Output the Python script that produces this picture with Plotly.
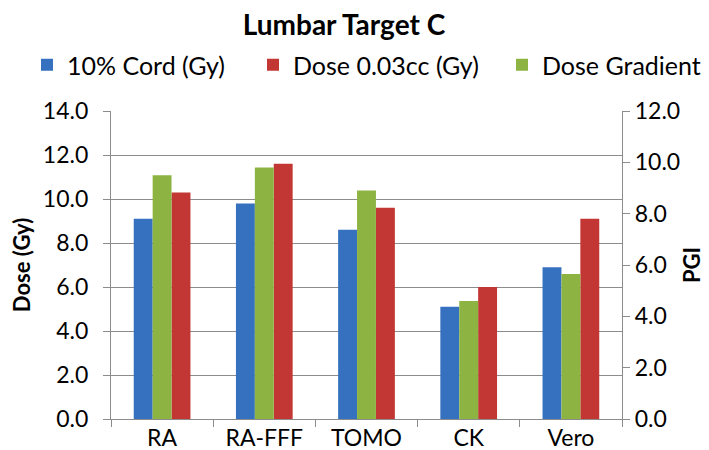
import plotly.graph_objects as go

categories = ["RA", "RA-FFF", "TOMO", "CK", "Vero"]
cord_10pct = [9.1, 9.8, 8.6, 5.1, 6.9]
dose_003cc = [10.3, 11.6, 9.6, 6.0, 9.1]
dose_gradient = [9.5, 9.8, 8.9, 4.6, 5.65]
left_ticks = [0, 2, 4, 6, 8, 10, 12, 14]
right_ticks = [0, 2, 4, 6, 8, 10, 12]

FONT = "Lato, 'Open Sans', sans-serif"
GRID = "#8C8C8C"
W = 0.185

fig = go.Figure()
fig.add_trace(go.Bar(x=categories, y=cord_10pct, name="10% Cord (Gy)",
                     marker=dict(color="#3571BF", line=dict(width=0)),
                     width=W, offset=-1.5 * W, yaxis="y", legend="legend"))
fig.add_trace(go.Bar(x=categories, y=dose_003cc, name="Dose 0.03cc (Gy)",
                     marker=dict(color="#C23733", line=dict(width=0)),
                     width=W, offset=0.5 * W, yaxis="y", legend="legend2"))
fig.add_trace(go.Bar(x=categories, y=dose_gradient, name="Dose Gradient",
                     marker=dict(color="#8DB443", line=dict(width=0)),
                     width=W, offset=-0.5 * W, yaxis="y2", legend="legend3"))

LEG_Y = 1 - 57 / 450


def leg(left_px):
    return dict(orientation="h", xref="container", yref="container",
                x=left_px / 709, xanchor="left", y=LEG_Y, yanchor="middle",
                font=dict(size=25), bgcolor="rgba(0,0,0,0)", visible=True)


fig.update_layout(
    width=709, height=450,
    showlegend=True,
    paper_bgcolor="white", plot_bgcolor="white",
    margin=dict(l=103, r=95, t=103, b=39, autoexpand=False),
    font=dict(family=FONT, size=23, color="black"),
    title=dict(text="<b>Lumbar Target C</b>", x=336 / 709, xanchor="center",
               y=1 - 7 / 450, yanchor="top", yref="container", pad=dict(t=0, b=0),
               font=dict(size=28)),
    legend=leg(19),
    legend2=leg(245),
    legend3=leg(494),
    barmode="overlay",
    xaxis=dict(showline=True, linecolor=GRID, linewidth=1.3, automargin=False,
               ticks="outside", tickson="boundaries", ticklen=7, tickcolor=GRID,
               tickwidth=1.3, showgrid=False, ticklabelstandoff=-2),
    yaxis=dict(range=[0, 14], tickvals=left_ticks, tickformat=".1f", automargin=False,
               showgrid=True, gridcolor=GRID, gridwidth=1.3,
               showline=True, linecolor=GRID, linewidth=1.3,
               ticks="outside", ticklen=7, tickcolor=GRID, tickwidth=1.3,
               ticklabelstandoff=10, zeroline=False,
               title=dict(text="<b>Dose (Gy)</b>", font=dict(size=22), standoff=19)),
    yaxis2=dict(range=[0, 12], tickvals=right_ticks, tickformat=".1f", automargin=False,
                overlaying="y", side="right", showgrid=False,
                showline=True, linecolor=GRID, linewidth=1.3,
                ticks="outside", ticklen=7, tickcolor=GRID, tickwidth=1.3,
                zeroline=False,
                title=dict(text="<b>PGI</b>", font=dict(size=22), standoff=5)),
)

fig.write_html("out.html")
